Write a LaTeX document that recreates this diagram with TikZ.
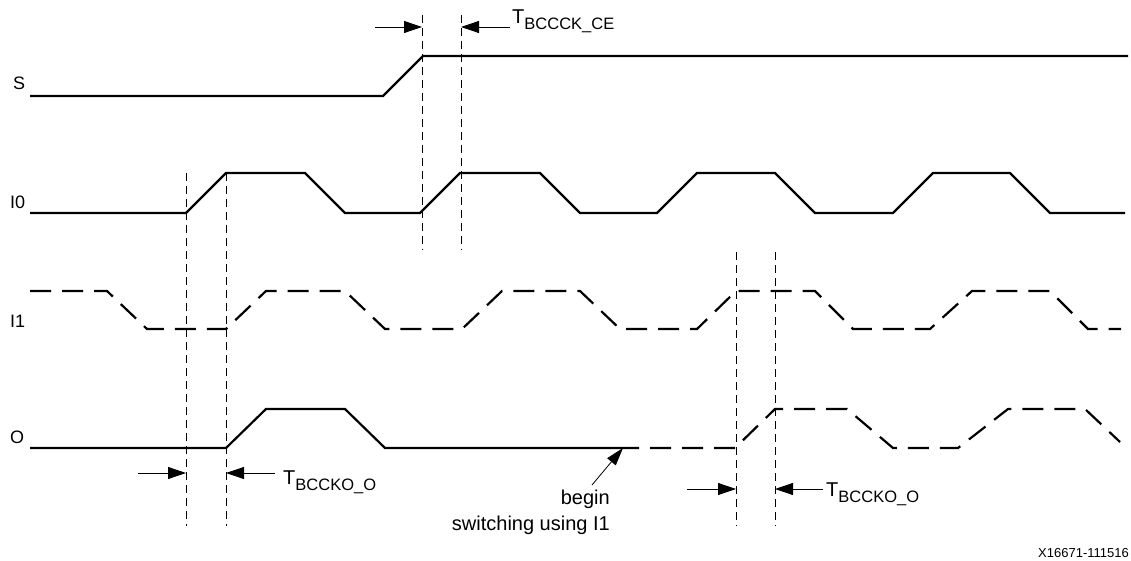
\documentclass[tikz,border=0pt]{standalone}
\usepackage{fontspec}
\setmainfont{Liberation Sans}
\usetikzlibrary{arrows.meta}
\newcommand{\tsub}[2]{#1\raisebox{-6pt}{\fontsize{16.5}{16.5}\selectfont #2}}
\begin{document}
\begin{tikzpicture}[x=1pt,y=-1pt,
  wave/.style={line width=2.2pt, line join=miter},
  wavedash/.style={wave, dash pattern=on 21pt off 11pt},
  guide/.style={line width=0.8pt, dash pattern=on 8pt off 5pt},
  dim/.style={line width=0.8pt, -{Triangle[length=18pt,width=12pt]}},
  sig/.style={font=\fontsize{18}{20}\selectfont, anchor=base west, inner sep=0pt},
  tlabel/.style={font=\fontsize{20}{22}\selectfont, anchor=base west, inner sep=0pt},
  note/.style={font=\fontsize{20}{26}\selectfont, anchor=base east, inner sep=0pt, align=right},
  ref/.style={font=\fontsize{13}{14}\selectfont, anchor=base east, inner sep=0pt},
]
\useasboundingbox (0,0) rectangle (1131,561);
\clip (0,0) rectangle (1131,561);

% signal names
\node[sig] (lS) at (13,90) {S};
\node[sig] (lI0) at (10,209) {I0};
\node[sig] (lI1) at (10,327) {I1};
\node[sig] (lO) at (10,443) {O};

% waveforms
\draw[wave] (30,96) -- (383,96) -- (423,56) -- (1128,56);
\draw[wave] (30,213) -- (186,213) -- (226,173) -- (305,173) -- (345,213) -- (420,213)
  -- (460,173) -- (540,173) -- (580,213) -- (657,213) -- (697,173) -- (775,173)
  -- (815,213) -- (893,213) -- (933,173) -- (1010,173) -- (1050,213) -- (1125,213);
\draw[wavedash] (30,291) -- (107,291) -- (147,329) -- (226,329) -- (266,291) -- (345,291)
  -- (385,329) -- (462,329) -- (502,291) -- (580,291) -- (620,329) -- (697,329)
  -- (736,291) -- (815,291) -- (853,329) -- (930,329) -- (972,291) -- (1050,291)
  -- (1088,329) -- (1121,329);
\draw[wave] (30,448) -- (226,448) -- (266,409) -- (345,409) -- (385,448) -- (639,448);
\draw[wavedash] (650,448) -- (735,448) -- (775,409) -- (847,409) -- (893,448)
  -- (958,448) -- (1008,409) -- (1085,409) -- (1120,442);

% guide lines
\coordinate (g1t) at (186,173); \coordinate (g1b) at (186,526);
\coordinate (g2t) at (226,173); \coordinate (g2b) at (226,526);
\coordinate (g3t) at (422,15);  \coordinate (g3b) at (422,250);
\coordinate (g4t) at (461,15);  \coordinate (g4b) at (461,250);
\coordinate (g5t) at (736,252); \coordinate (g5b) at (736,526);
\coordinate (g6t) at (775,252); \coordinate (g6b) at (775,526);
\foreach \g in {1,...,6} \draw[guide] (g\g t) -- (g\g b);

% timing dimensions
\coordinate (a1s) at (375,27); \coordinate (a1e) at (422,27);
\coordinate (a2s) at (510,27); \coordinate (a2e) at (461,27);
\node[tlabel] (tce) at (512,24) {\tsub{T}{BCCCK\_CE}};
\draw[dim] (a1s) -- (a1e);
\draw[dim] (a2s) -- (a2e);

\coordinate (b1s) at (138,473); \coordinate (b1e) at (186,473);
\coordinate (b2s) at (275,473); \coordinate (b2e) at (226,473);
\node[tlabel] (to1) at (283,484) {\tsub{T}{BCCKO\_O}};
\draw[dim] (b1s) -- (b1e);
\draw[dim] (b2s) -- (b2e);

\coordinate (c1s) at (687,489); \coordinate (c1e) at (736,489);
\coordinate (c2s) at (823,489); \coordinate (c2e) at (775,489);
\node[tlabel] (to2) at (826,496) {\tsub{T}{BCCKO\_O}};
\draw[dim] (c1s) -- (c1e);
\draw[dim] (c2s) -- (c2e);

% annotation
\node[note] (bg) at (610,530) {begin\\switching using I1};
\coordinate (bgtail) at (592,485);
\coordinate (bgtip) at (623,448);
\draw[line width=0.8pt, -{Triangle[length=18pt,width=11pt]}] (bgtail) -- (bgtip);

\node[ref] (xref) at (1129,557) {X16671-111516};
\end{tikzpicture}
\end{document}
